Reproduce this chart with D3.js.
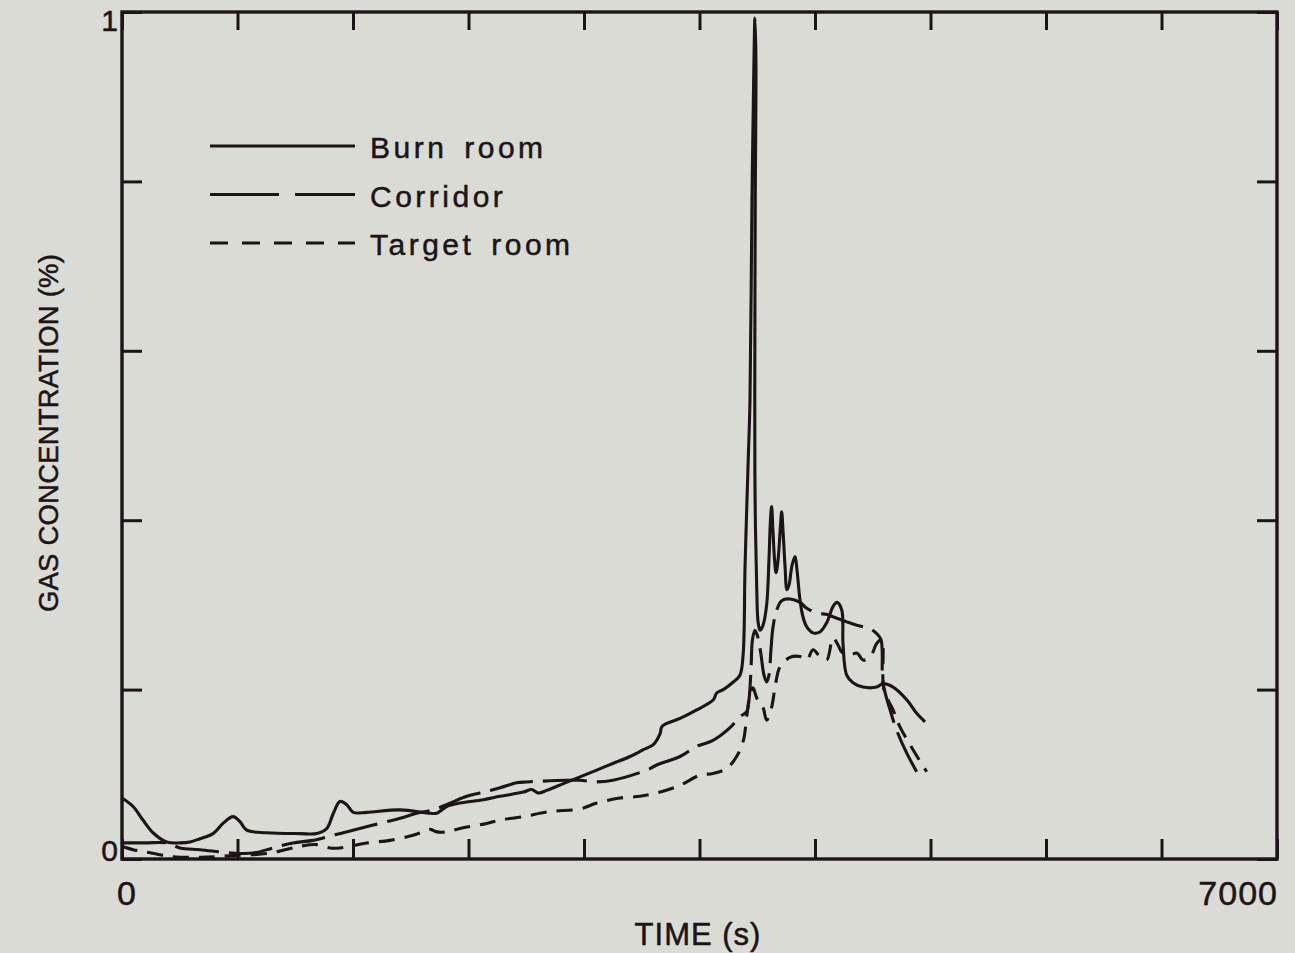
<!DOCTYPE html>
<html>
<head>
<meta charset="utf-8">
<script src="https://cdn.jsdelivr.net/npm/d3@7"></script>
<style>
  html, body { margin: 0; padding: 0; background: #dadbd4; }
  svg { display: block; }
  text { font-family: "Liberation Sans", Arial, Helvetica, sans-serif; fill: #1c1416; stroke: #1c1416; stroke-width: 0.5px; }
</style>
</head>
<body>
<svg id="chart" width="1295" height="953"></svg>
<script>
// ---- data (time in s, gas concentration in %) ----
const xTickValues = [0, 700, 1400, 2100, 2800, 3500, 4200, 4900, 5600, 6300, 7000];
const yTickValues = [0, 0.2, 0.4, 0.6, 0.8, 1.0];
const xTickLabels = [0, 7000];
const yTickLabels = [0, 1];
const seriesNames = ["Burn room", "Corridor", "Target room"];

const burnRoom = [
  [0,0.072],[67,0.062],[127,0.046],[188,0.031],[271,0.020],[352,0.019],[412,0.020],[473,0.024],
  [552,0.030],[612,0.042],[673,0.050],[715,0.044],[756,0.034],[877,0.031],[1079,0.030],[1180,0.030],
  [1241,0.036],[1281,0.054],[1321,0.068],[1362,0.064],[1402,0.055],[1483,0.055],[1685,0.058],
  [1867,0.054],[1907,0.054],[1968,0.062],[2048,0.066],[2190,0.070],[2291,0.074],[2432,0.079],
  [2483,0.082],[2523,0.078],[2574,0.081],[2675,0.089],[2776,0.097],[2877,0.105],[2978,0.113],
  [3079,0.121],[3159,0.129],[3220,0.135],[3261,0.148],[3271,0.156],[3301,0.160],[3382,0.166],
  [3483,0.176],[3584,0.188],[3604,0.196],[3644,0.200],[3705,0.209],[3745,0.217],[3764,0.240],
  [3776,0.345],[3794,0.463],[3806,0.542],[3818,0.778],[3830,0.943],[3836,0.993],[3842,0.943],
  [3838,0.778],[3835,0.542],[3837,0.424],[3847,0.318],[3855,0.280],[3867,0.270],[3885,0.276],
  [3907,0.300],[3921,0.353],[3930,0.400],[3937,0.416],[3945,0.388],[3955,0.353],[3964,0.338],
  [3976,0.353],[3991,0.394],[3998,0.410],[4006,0.388],[4018,0.347],[4030,0.318],[4042,0.323],
  [4061,0.347],[4079,0.357],[4091,0.341],[4109,0.306],[4127,0.286],[4150,0.274],[4188,0.267],
  [4230,0.268],[4271,0.279],[4309,0.298],[4333,0.303],[4362,0.294],[4370,0.253],[4392,0.217],
  [4430,0.208],[4491,0.203],[4574,0.203],[4612,0.207],[4673,0.203],[4756,0.188],[4816,0.172],
  [4867,0.162]
];

const corridor = [
  [0,0.019],[139,0.019],[271,0.019],[352,0.013],[473,0.011],[673,0.007],[794,0.007],[915,0.013],
  [1036,0.019],[1158,0.022],[1279,0.028],[1400,0.034],[1582,0.043],[1685,0.048],[1786,0.054],
  [1885,0.058],[1988,0.066],[2089,0.074],[2170,0.078],[2291,0.084],[2392,0.090],[2453,0.091],
  [2695,0.093],[2776,0.093],[2877,0.091],[2976,0.093],[3180,0.105],[3241,0.111],[3382,0.121],
  [3483,0.133],[3582,0.140],[3685,0.155],[3745,0.168],[3786,0.174],[3800,0.188],[3812,0.223],
  [3821,0.259],[3836,0.270],[3855,0.261],[3873,0.241],[3891,0.217],[3907,0.209],[3921,0.217],
  [3933,0.247],[3945,0.273],[3968,0.294],[3998,0.305],[4048,0.307],[4109,0.303],[4150,0.296],
  [4218,0.290],[4267,0.289],[4309,0.286],[4392,0.280],[4453,0.276],[4533,0.272],[4574,0.266],
  [4600,0.259],[4612,0.208],[4655,0.176],[4695,0.152],[4756,0.125],[4836,0.096]
];

const targetRoom = [
  [0,0.015],[67,0.011],[127,0.009],[230,0.005],[291,0.003],[473,0.002],[673,0.004],[897,0.007],
  [1079,0.015],[1180,0.017],[1261,0.013],[1321,0.013],[1382,0.015],[1483,0.019],[1624,0.022],
  [1764,0.028],[1824,0.032],[1867,0.035],[1909,0.032],[1968,0.032],[2048,0.036],[2210,0.042],
  [2291,0.046],[2430,0.050],[2594,0.056],[2776,0.059],[2877,0.066],[3018,0.072],[3139,0.074],
  [3241,0.078],[3382,0.087],[3503,0.099],[3582,0.101],[3665,0.107],[3725,0.121],[3766,0.140],
  [3786,0.168],[3806,0.194],[3824,0.202],[3847,0.190],[3867,0.184],[3885,0.179],[3907,0.164],
  [3937,0.179],[3958,0.203],[3988,0.227],[4048,0.238],[4109,0.239],[4150,0.235],[4188,0.247],
  [4230,0.239],[4271,0.235],[4309,0.261],[4339,0.253],[4364,0.244],[4412,0.241],[4455,0.243],
  [4491,0.235],[4533,0.238],[4576,0.255],[4604,0.259],[4618,0.200],[4673,0.176],[4715,0.156],
  [4794,0.129],[4877,0.103]
];

// ---- layout ----
const ink = "#1c1416";
const svg = d3.select("#chart");
const x = d3.scaleLinear().domain([0, 7000]).range([122, 1277]);
const y = d3.scaleLinear().domain([0, 1]).range([859, 12]);

// frame
svg.append("rect")
  .attr("x", x(0)).attr("y", y(1))
  .attr("width", x(7000) - x(0)).attr("height", y(0) - y(1))
  .attr("fill", "none").attr("stroke", ink).attr("stroke-width", 3.4);

// inward ticks via axes
function styleAxis(g) {
  g.select(".domain").remove();
  g.selectAll(".tick line").attr("stroke", ink).attr("stroke-width", 3);
  g.selectAll(".tick text").remove();
}
svg.append("g").attr("transform", `translate(0,${y(0)})`)
  .call(d3.axisBottom(x).tickValues(xTickValues).tickSizeInner(-20).tickSizeOuter(0)).call(styleAxis);
svg.append("g").attr("transform", `translate(0,${y(1)})`)
  .call(d3.axisTop(x).tickValues(xTickValues).tickSizeInner(-18).tickSizeOuter(0)).call(styleAxis);
svg.append("g").attr("transform", `translate(${x(0)},0)`)
  .call(d3.axisLeft(y).tickValues(yTickValues).tickSizeInner(-20).tickSizeOuter(0)).call(styleAxis);
svg.append("g").attr("transform", `translate(${x(7000)},0)`)
  .call(d3.axisRight(y).tickValues(yTickValues).tickSizeInner(-20).tickSizeOuter(0)).call(styleAxis);

// tick labels
svg.selectAll(".xlab").data(xTickLabels).enter().append("text")
  .attr("class", "xlab")
  .attr("x", d => d === 0 ? x(d) + 5 : x(d) + 1)
  .attr("y", 905)
  .attr("text-anchor", d => d === 0 ? "middle" : "end")
  .attr("font-size", 34).attr("letter-spacing", 1)
  .text(d => d);
svg.selectAll(".ylab").data(yTickLabels).enter().append("text")
  .attr("class", "ylab")
  .attr("x", x(0) - 4)
  .attr("y", d => d === 0 ? y(d) + 2 : y(d) + 19)
  .attr("text-anchor", "end")
  .attr("font-size", 30)
  .text(d => d);

// axis titles
svg.append("text").attr("x", 698).attr("y", 945).attr("text-anchor", "middle")
  .attr("font-size", 31).attr("letter-spacing", 1).text("TIME (s)");
svg.append("text").attr("transform", "translate(58,433) rotate(-90)").attr("text-anchor", "middle")
  .attr("font-size", 27.5).attr("letter-spacing", 0.2).text("GAS CONCENTRATION (%)");

// series
const line = d3.line().x(d => x(d[0])).y(d => y(d[1])).curve(d3.curveCatmullRom.alpha(0.5));
const series = [
  { name: seriesNames[0], data: burnRoom, dash: null, legendDash: null },
  { name: seriesNames[1], data: corridor, dash: "44,10", legendDash: "69,16" },
  { name: seriesNames[2], data: targetRoom, dash: "16,10", legendDash: "18,14" }
];
series.forEach(s => {
  svg.append("path").datum(s.data)
    .attr("d", line)
    .attr("fill", "none").attr("stroke", ink).attr("stroke-width", 3.1)
    .attr("stroke-linejoin", "round")
    .attr("stroke-dasharray", s.dash);
});

// legend
const legend = svg.append("g");
series.forEach((s, i) => {
  const ly = 146 + i * 48.5;
  legend.append("line").attr("x1", 210).attr("x2", 355).attr("y1", ly).attr("y2", ly)
    .attr("stroke", ink).attr("stroke-width", 3).attr("stroke-dasharray", s.legendDash);
  legend.append("text").attr("x", 370).attr("y", ly + 12)
    .attr("font-size", 30).attr("letter-spacing", 3.5).attr("word-spacing", 5).text(s.name);
});
</script>
</body>
</html>
